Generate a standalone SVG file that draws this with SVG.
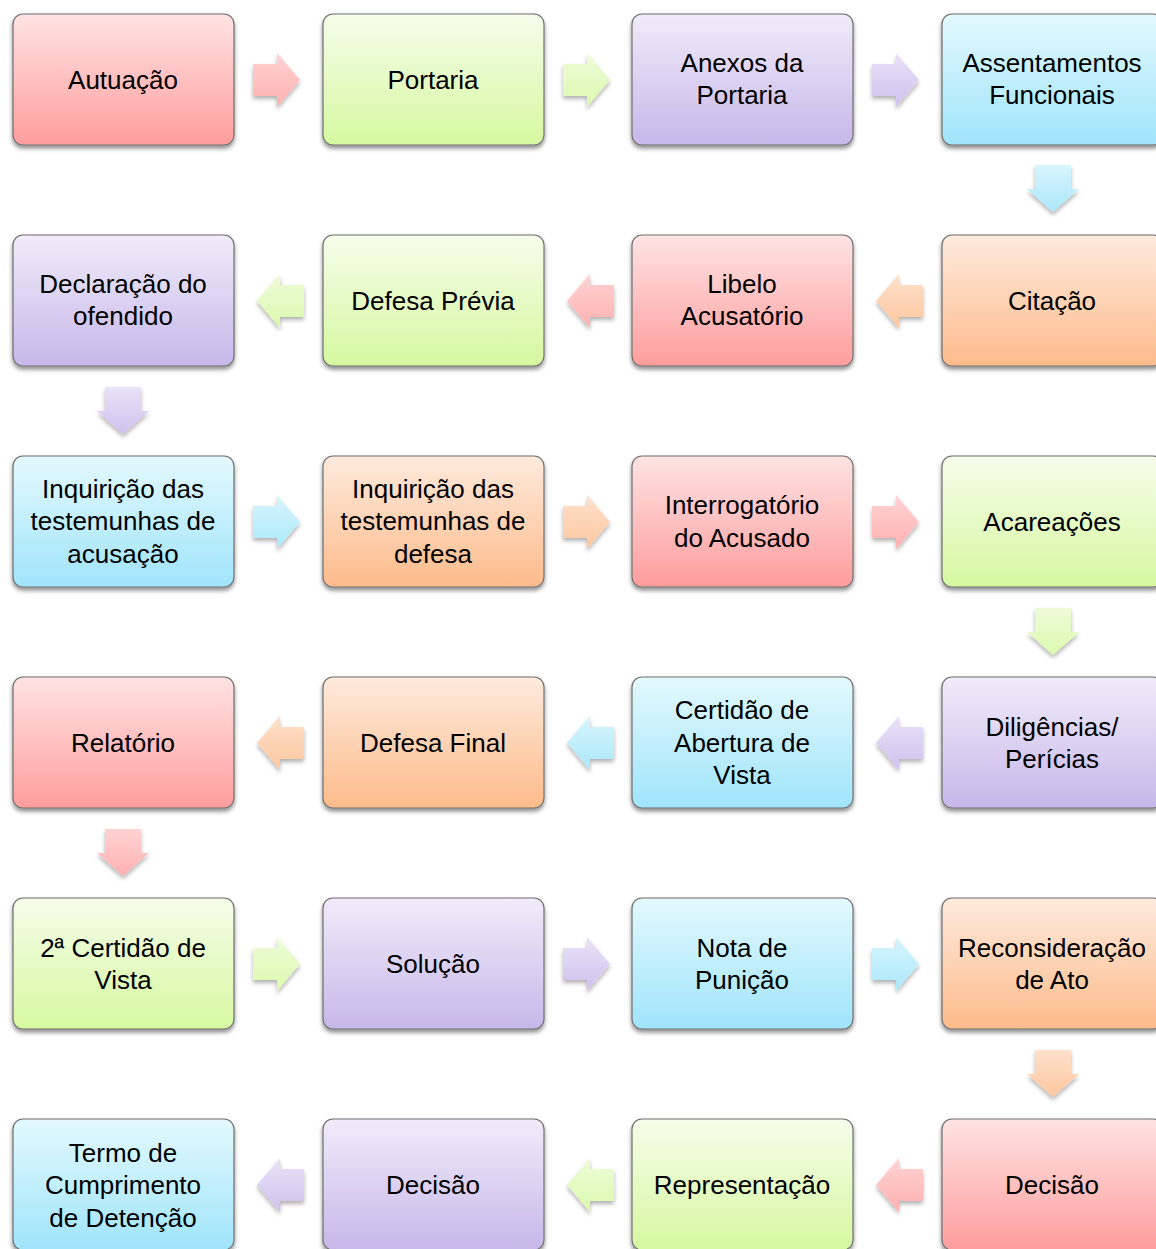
<svg xmlns="http://www.w3.org/2000/svg" width="1156" height="1249" viewBox="0 0 1156 1249">
<style>
.box{stroke:#6f6f6f;stroke-width:1.2;filter:url(#sh)}
.arr{filter:url(#ash)}
text{font-family:"Liberation Sans",Arial,sans-serif;font-size:26px;fill:#000;text-anchor:middle}
</style>
<defs>
<filter id="sh" x="-10%" y="-10%" width="120%" height="130%"><feDropShadow dx="0" dy="3" stdDeviation="2.2" flood-color="#000" flood-opacity="0.45"/></filter>
<filter id="ash" x="-30%" y="-30%" width="160%" height="160%"><feDropShadow dx="0" dy="3" stdDeviation="2" flood-color="#000" flood-opacity="0.3"/></filter>
<linearGradient id="gP" x1="0" y1="0" x2="0" y2="1"><stop offset="0" stop-color="#ffe3e3"/><stop offset="1" stop-color="#ff9d9d"/></linearGradient>
<linearGradient id="gG" x1="0" y1="0" x2="0" y2="1"><stop offset="0" stop-color="#f5fdea"/><stop offset="1" stop-color="#d6f8a0"/></linearGradient>
<linearGradient id="gV" x1="0" y1="0" x2="0" y2="1"><stop offset="0" stop-color="#f0ecfa"/><stop offset="1" stop-color="#c8b7ea"/></linearGradient>
<linearGradient id="gB" x1="0" y1="0" x2="0" y2="1"><stop offset="0" stop-color="#e3f9fe"/><stop offset="1" stop-color="#a0e4fb"/></linearGradient>
<linearGradient id="gO" x1="0" y1="0" x2="0" y2="1"><stop offset="0" stop-color="#feeadc"/><stop offset="1" stop-color="#fdbb8b"/></linearGradient>
<linearGradient id="aP" x1="0" y1="0" x2="0" y2="1"><stop offset="0" stop-color="#ffd3d3"/><stop offset="1" stop-color="#ffb0b0"/></linearGradient>
<linearGradient id="aG" x1="0" y1="0" x2="0" y2="1"><stop offset="0" stop-color="#eefcd9"/><stop offset="1" stop-color="#dcf9ae"/></linearGradient>
<linearGradient id="aV" x1="0" y1="0" x2="0" y2="1"><stop offset="0" stop-color="#e9e3f8"/><stop offset="1" stop-color="#cfc1ee"/></linearGradient>
<linearGradient id="aB" x1="0" y1="0" x2="0" y2="1"><stop offset="0" stop-color="#d8f5fd"/><stop offset="1" stop-color="#abe8fb"/></linearGradient>
<linearGradient id="aO" x1="0" y1="0" x2="0" y2="1"><stop offset="0" stop-color="#fee0cb"/><stop offset="1" stop-color="#fdc79f"/></linearGradient>
<path id="ar" d="M0,-16 H24 V-27 L47,0 L24,27 V16 H0 Z"/>
<path id="al" d="M0,0 L23,-27 V-16 H47 V16 H23 V27 Z"/>
<path id="ad" d="M-18,0 H18 V24 H26 L0,47 L-26,24 H-18 Z"/>
</defs>

<g id="connectors">
<use href="#ar" x="253" y="80" fill="url(#aP)" class="arr"/>
<use href="#ar" x="563" y="80" fill="url(#aG)" class="arr"/>
<use href="#ar" x="872" y="80" fill="url(#aV)" class="arr"/>
<use href="#ad" x="1053" y="165" fill="url(#aB)" class="arr"/>
<use href="#al" x="876" y="301" fill="url(#aO)" class="arr"/>
<use href="#al" x="567" y="301" fill="url(#aP)" class="arr"/>
<use href="#al" x="257" y="301" fill="url(#aG)" class="arr"/>
<use href="#ad" x="123" y="387" fill="url(#aV)" class="arr"/>
<use href="#ar" x="253" y="522" fill="url(#aB)" class="arr"/>
<use href="#ar" x="563" y="522" fill="url(#aO)" class="arr"/>
<use href="#ar" x="872" y="522" fill="url(#aP)" class="arr"/>
<use href="#ad" x="1053" y="608" fill="url(#aG)" class="arr"/>
<use href="#al" x="876" y="743" fill="url(#aV)" class="arr"/>
<use href="#al" x="567" y="743" fill="url(#aB)" class="arr"/>
<use href="#al" x="257" y="743" fill="url(#aO)" class="arr"/>
<use href="#ad" x="123" y="829" fill="url(#aP)" class="arr"/>
<use href="#ar" x="253" y="964" fill="url(#aG)" class="arr"/>
<use href="#ar" x="563" y="964" fill="url(#aV)" class="arr"/>
<use href="#ar" x="872" y="964" fill="url(#aB)" class="arr"/>
<use href="#ad" x="1053" y="1050" fill="url(#aO)" class="arr"/>
<use href="#al" x="876" y="1185" fill="url(#aP)" class="arr"/>
<use href="#al" x="567" y="1185" fill="url(#aG)" class="arr"/>
<use href="#al" x="257" y="1185" fill="url(#aV)" class="arr"/>
</g>

<g id="n1"><rect class="box" x="13" y="14" width="221" height="131" rx="10" fill="url(#gP)"/><text x="123" y="89">Autuação</text></g>
<g id="n2"><rect class="box" x="323" y="14" width="221" height="131" rx="10" fill="url(#gG)"/><text x="433" y="89">Portaria</text></g>
<g id="n3"><rect class="box" x="632" y="14" width="221" height="131" rx="10" fill="url(#gV)"/><text x="742" y="72">Anexos da</text><text x="742" y="104">Portaria</text></g>
<g id="n4"><rect class="box" x="942" y="14" width="221" height="131" rx="10" fill="url(#gB)"/><text x="1052" y="72">Assentamentos</text><text x="1052" y="104">Funcionais</text></g>

<g id="n5"><rect class="box" x="942" y="235" width="221" height="131" rx="10" fill="url(#gO)"/><text x="1052" y="310">Citação</text></g>
<g id="n6"><rect class="box" x="632" y="235" width="221" height="131" rx="10" fill="url(#gP)"/><text x="742" y="293">Libelo</text><text x="742" y="325">Acusatório</text></g>
<g id="n7"><rect class="box" x="323" y="235" width="221" height="131" rx="10" fill="url(#gG)"/><text x="433" y="310">Defesa Prévia</text></g>
<g id="n8"><rect class="box" x="13" y="235" width="221" height="131" rx="10" fill="url(#gV)"/><text x="123" y="293">Declaração do</text><text x="123" y="325">ofendido</text></g>

<g id="n9"><rect class="box" x="13" y="456" width="221" height="131" rx="10" fill="url(#gB)"/><text x="123" y="498">Inquirição das</text><text x="123" y="530">testemunhas de</text><text x="123" y="563">acusação</text></g>
<g id="n10"><rect class="box" x="323" y="456" width="221" height="131" rx="10" fill="url(#gO)"/><text x="433" y="498">Inquirição das</text><text x="433" y="530">testemunhas de</text><text x="433" y="563">defesa</text></g>
<g id="n11"><rect class="box" x="632" y="456" width="221" height="131" rx="10" fill="url(#gP)"/><text x="742" y="514">Interrogatório</text><text x="742" y="547">do Acusado</text></g>
<g id="n12"><rect class="box" x="942" y="456" width="221" height="131" rx="10" fill="url(#gG)"/><text x="1052" y="531">Acareações</text></g>

<g id="n13"><rect class="box" x="942" y="677" width="221" height="131" rx="10" fill="url(#gV)"/><text x="1052" y="736">Diligências/</text><text x="1052" y="768">Perícias</text></g>
<g id="n14"><rect class="box" x="632" y="677" width="221" height="131" rx="10" fill="url(#gB)"/><text x="742" y="719">Certidão de</text><text x="742" y="752">Abertura de</text><text x="742" y="784">Vista</text></g>
<g id="n15"><rect class="box" x="323" y="677" width="221" height="131" rx="10" fill="url(#gO)"/><text x="433" y="752">Defesa Final</text></g>
<g id="n16"><rect class="box" x="13" y="677" width="221" height="131" rx="10" fill="url(#gP)"/><text x="123" y="752">Relatório</text></g>

<g id="n17"><rect class="box" x="13" y="898" width="221" height="131" rx="10" fill="url(#gG)"/><text x="123" y="957">2ª Certidão de</text><text x="123" y="989">Vista</text></g>
<g id="n18"><rect class="box" x="323" y="898" width="221" height="131" rx="10" fill="url(#gV)"/><text x="433" y="973">Solução</text></g>
<g id="n19"><rect class="box" x="632" y="898" width="221" height="131" rx="10" fill="url(#gB)"/><text x="742" y="957">Nota de</text><text x="742" y="989">Punição</text></g>
<g id="n20"><rect class="box" x="942" y="898" width="221" height="131" rx="10" fill="url(#gO)"/><text x="1052" y="957">Reconsideração</text><text x="1052" y="989">de Ato</text></g>

<g id="n21"><rect class="box" x="942" y="1119" width="221" height="131" rx="10" fill="url(#gP)"/><text x="1052" y="1194">Decisão</text></g>
<g id="n22"><rect class="box" x="632" y="1119" width="221" height="131" rx="10" fill="url(#gG)"/><text x="742" y="1194">Representação</text></g>
<g id="n23"><rect class="box" x="323" y="1119" width="221" height="131" rx="10" fill="url(#gV)"/><text x="433" y="1194">Decisão</text></g>
<g id="n24"><rect class="box" x="13" y="1119" width="221" height="131" rx="10" fill="url(#gB)"/><text x="123" y="1162">Termo de</text><text x="123" y="1194">Cumprimento</text><text x="123" y="1227">de Detenção</text></g>
</svg>
